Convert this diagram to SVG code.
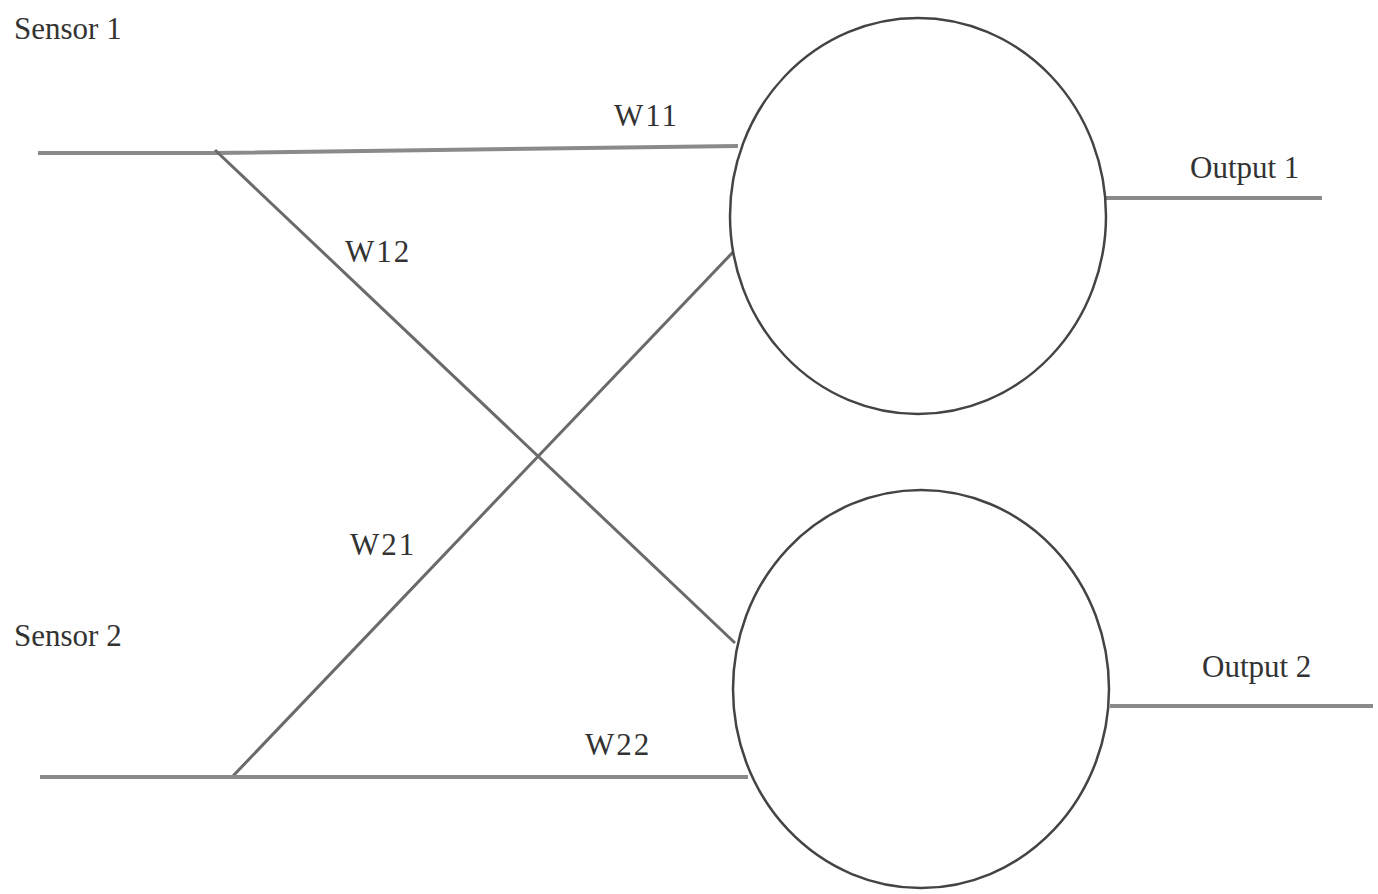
<svg xmlns="http://www.w3.org/2000/svg" width="1378" height="894" viewBox="0 0 1378 894">
<style>
.lbl{font-family:"Liberation Serif","Times New Roman",serif;font-size:31px;fill:#333;}
.wl{letter-spacing:2px;}
.wire{stroke:#8a8a8a;stroke-width:4;fill:none;stroke-linecap:butt;}
.cross{stroke:#6a6a6a;stroke-width:3;fill:none;}
.node{stroke:#444;stroke-width:2.5;fill:#fff;}
</style>
<rect width="1378" height="894" fill="#fff"/>
<g id="connectors">
<path class="wire" d="M38,153 L215,153 L738,146"/>
<path class="cross" d="M215,150 L735,643"/>
<path class="cross" d="M233,776 L735,250"/>
<path class="wire" d="M40,777 L748,777"/>
<path class="wire" d="M1104,198 L1322,198"/>
<path class="wire" d="M1110,706 L1373,706"/>
<text class="lbl wl" x="614" y="126">W11</text>
<text class="lbl wl" x="345" y="262">W12</text>
<text class="lbl wl" x="350" y="555">W21</text>
<text class="lbl wl" x="585" y="755">W22</text>
</g>
<g id="sensor1"><text class="lbl" x="14" y="39">Sensor 1</text></g>
<g id="sensor2"><text class="lbl" x="14" y="646">Sensor 2</text></g>
<g id="neuron1"><ellipse class="node" cx="918" cy="216" rx="188" ry="198"/></g>
<g id="neuron2"><ellipse class="node" cx="921" cy="689" rx="188" ry="199"/></g>
<g id="output1"><text class="lbl" x="1190" y="178">Output 1</text></g>
<g id="output2"><text class="lbl" x="1202" y="677">Output 2</text></g>
</svg>
